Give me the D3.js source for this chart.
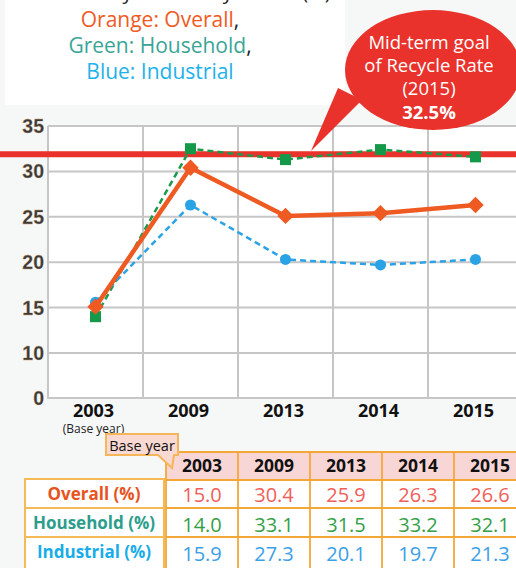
<!DOCTYPE html>
<html><head><meta charset="utf-8">
<script src="https://cdn.jsdelivr.net/npm/d3@7"></script>
<style>
html,body{margin:0;padding:0;background:#f6f8f8;overflow:hidden}
svg{display:block}
</style></head>
<body>
<script>
// ---- data ----
const years = ["2003","2009","2013","2014","2015"];
const yTicks = [0,10,15,20,25,30,35];
// values as plotted in the chart
const overallPlot = [15.1, 30.4, 25.1, 25.4, 26.3];
const householdPlot = [14.0, 32.5, 31.3, 32.4, 31.6];
const industrialPlot = [15.6, 26.3, 20.3, 19.7, 20.3];
const goalLineValue = 31.9;
// values shown in the table
const overallTable = ["15.0","30.4","25.9","26.3","26.6"];
const householdTable = ["14.0","33.1","31.5","33.2","32.1"];
const industrialTable = ["15.9","27.3","20.1","19.7","21.3"];
const rowLabels = ["Overall (%)","Household (%)","Industrial (%)"];
const legendLines = [["Orange: Overall","#ef5a24"],["Green: Household","#3aa597"],["Blue: Industrial","#1eb1ea"]];
const goalText = ["Mid-term goal","of Recycle Rate","(2015)"];
const goalValue = "32.5%";

const W=516,H=568;
const svg=d3.select("body").append("svg").attr("width",W).attr("height",H);
const font="'Open Sans', 'DejaVu Sans', sans-serif";

// background panel behind legend
svg.append("rect").attr("x",5).attr("y",0).attr("width",340).attr("height",105).attr("fill","#ffffff");

// partial title (cut off at the top edge, as in the source)
svg.append("text").attr("x",210).attr("y",-1).attr("text-anchor","middle")
  .attr("font-family",font).attr("font-size",20).attr("fill","#222").text("Recycle Rate by Sector (%)");

// legend
legendLines.forEach((d,i)=>{
  const t=svg.append("text").attr("x",160).attr("y",27+i*26).attr("text-anchor","middle")
    .attr("font-family",font).attr("font-size",21);
  t.append("tspan").attr("fill",d[1]).text(d[0]);
  if(i<2) t.append("tspan").attr("fill","#222").text(",");
});

// scales
const x=d3.scaleBand().domain(years).range([48,523]);
const y=d3.scaleLinear().domain([0,10,35]).range([398,353,126]);

// plot area
svg.append("rect").attr("x",48).attr("y",y(35)).attr("width",W-48).attr("height",y(0)-y(35)).attr("fill","#fff");
const grid=svg.append("g").attr("stroke","#c6c6c6").attr("stroke-width",2);
grid.selectAll("line.h").data(yTicks).join("line").attr("class","h")
  .attr("x1",48).attr("x2",W).attr("y1",d=>y(d)).attr("y2",d=>y(d));
grid.selectAll("line.v").data(years).join("line").attr("class","v")
  .attr("x1",d=>x(d)).attr("x2",d=>x(d)).attr("y1",y(35)).attr("y2",y(0));
grid.append("line").attr("x1",48).attr("x2",48).attr("y1",y(35)).attr("y2",y(0)+1);

// y tick labels
svg.append("g").selectAll("text").data(yTicks).join("text")
  .attr("x",44).attr("y",d=>y(d)).attr("dy","0.36em").attr("text-anchor","end")
  .attr("font-family","'Liberation Sans', Arial, sans-serif").attr("font-weight","bold")
  .attr("font-size",19.5).attr("fill","#3a3a3a").attr("stroke","#c9a070").attr("stroke-width",0.3)
  .text(d=>d);

// x labels
svg.append("g").selectAll("text").data(years).join("text")
  .attr("x",d=>x(d)+x.bandwidth()/2-2).attr("y",417).attr("text-anchor","middle")
  .attr("font-family",font).attr("font-weight","bold").attr("font-size",18).attr("fill","#111").text(d=>d);
svg.append("text").attr("x",x("2003")+x.bandwidth()/2-2).attr("y",433).attr("text-anchor","middle")
  .attr("font-family",font).attr("font-size",12).attr("fill","#222").text("(Base year)");

// goal callout
svg.append("path").attr("d",`M338,88 L362,100 L311,151 Z`).attr("fill","#e8322b");
svg.append("ellipse").attr("cx",433).attr("cy",70).attr("rx",88).attr("ry",60).attr("fill","#e8322b");
goalText.forEach((t,i)=>{
  svg.append("text").attr("x",429).attr("y",49+i*23).attr("text-anchor","middle")
    .attr("font-family",font).attr("font-size",18.5).attr("fill","#fff").text(t);
});
svg.append("text").attr("x",429).attr("y",119).attr("text-anchor","middle")
  .attr("font-family",font).attr("font-weight","bold").attr("font-size",18.5).attr("fill","#fff").text(goalValue);

// goal line
svg.append("line").attr("x1",0).attr("x2",W).attr("y1",y(goalLineValue)).attr("y2",y(goalLineValue))
  .attr("stroke","#e8322b").attr("stroke-width",6);

// series
const cx=(d,i)=>x(years[i])+x.bandwidth()/2;
const line=d3.line().x((d,i)=>cx(d,i)).y(d=>y(d));
// household (green dashed, squares)
svg.append("path").datum(householdPlot).attr("d",line).attr("fill","none")
  .attr("stroke","#1c9a4b").attr("stroke-width",2.5).attr("stroke-dasharray","6,4");
svg.append("g").selectAll("rect").data(householdPlot).join("rect")
  .attr("x",(d,i)=>cx(d,i)-5.5).attr("y",d=>y(d)-5.5).attr("width",11).attr("height",11).attr("fill","#14984a");
// industrial (blue dashed, circles)
svg.append("path").datum(industrialPlot).attr("d",line).attr("fill","none")
  .attr("stroke","#2aa3e6").attr("stroke-width",2.5).attr("stroke-dasharray","6,4");
svg.append("g").selectAll("circle").data(industrialPlot).join("circle")
  .attr("cx",(d,i)=>cx(d,i)).attr("cy",d=>y(d)).attr("r",5.5).attr("fill","#2aa3e6");
// overall (orange solid, diamonds)
svg.append("path").datum(overallPlot).attr("d",line).attr("fill","none")
  .attr("stroke","#ee5a22").attr("stroke-width",4.5).attr("stroke-linejoin","round");
svg.append("g").selectAll("path").data(overallPlot).join("path")
  .attr("d",d3.symbol(d3.symbolDiamond2,170)())
  .attr("transform",(d,i)=>`translate(${cx(d,i)},${y(d)})`).attr("fill","#ee5a22");

// ---- table ----
const colX=d3.scaleBand().domain(years).range([166,166+5*72]);
const tbl=svg.append("g");
tbl.append("rect").attr("x",166).attr("y",452).attr("width",W-166).attr("height",28).attr("fill","#f9d6d6");
tbl.append("rect").attr("x",166).attr("y",480).attr("width",W-166).attr("height",H-480).attr("fill","#fff");
tbl.append("rect").attr("x",24).attr("y",479).attr("width",140).attr("height",H-479).attr("fill","#fff");
const bc="#f3a739";
[452,480,508,537].forEach(yy=>{
  tbl.append("line").attr("x1",166).attr("x2",W).attr("y1",yy).attr("y2",yy).attr("stroke",bc).attr("stroke-width",1.8);
});
[479,508,537].forEach(yy=>{
  tbl.append("line").attr("x1",24).attr("x2",164).attr("y1",yy).attr("y2",yy).attr("stroke","#f6b958").attr("stroke-width",2);
});
tbl.append("line").attr("x1",25).attr("x2",25).attr("y1",478).attr("y2",H).attr("stroke","#f6b958").attr("stroke-width",2);
tbl.append("line").attr("x1",164).attr("x2",164).attr("y1",478).attr("y2",H).attr("stroke","#f6b958").attr("stroke-width",2);
years.forEach(yr=>{
  tbl.append("line").attr("x1",colX(yr)).attr("x2",colX(yr)).attr("y1",452).attr("y2",H).attr("stroke",bc).attr("stroke-width",1.8);
});
tbl.selectAll("text.hd").data(years).join("text").attr("class","hd")
  .attr("x",d=>colX(d)+colX.bandwidth()/2).attr("y",472).attr("text-anchor","middle")
  .attr("font-family",font).attr("font-weight","bold").attr("font-size",17.5).attr("fill","#111").text(d=>d);
const labelColors=["#e8521d","#2c9d8c","#18ade8"];
rowLabels.forEach((l,i)=>{
  tbl.append("text").attr("x",94).attr("y",500+i*29).attr("text-anchor","middle")
    .attr("font-family",font).attr("font-weight","bold").attr("font-size",17).attr("fill",labelColors[i]).text(l);
});
const valueColors=["#f0605a","#34a046","#3a9ee8"];
[overallTable,householdTable,industrialTable].forEach((row,i)=>{
  tbl.selectAll("text.r"+i).data(row).join("text").attr("class","r"+i)
    .attr("x",(d,j)=>colX(years[j])+colX.bandwidth()/2).attr("y",502+i*29.5).attr("text-anchor","middle")
    .attr("font-family",font).attr("font-size",20).attr("fill",valueColors[i]).text(d=>d);
});

// base year callout
svg.append("path").attr("d","M106,434 L178,434 L178,455 L174,455 L172,468 L158,455 L106,455 Z")
  .attr("fill","#fbd9d3").attr("stroke","#f5b558").attr("stroke-width",2);
svg.append("text").attr("x",142).attr("y",451).attr("text-anchor","middle")
  .attr("font-family",font).attr("font-size",14.5).attr("fill","#111").text("Base year");
</script>
</body></html>
